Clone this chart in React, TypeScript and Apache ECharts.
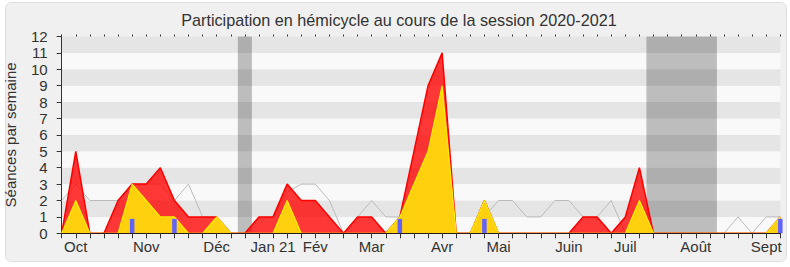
import React, { useEffect, useRef } from "react";
import * as echarts from "echarts";

// Month labels at each weekly tick (52 weeks of the 2020-2021 session)
const weekLabels = [
  "", "Oct", "", "", "", "", "Nov", "", "", "", "", "Déc", "", "", "", "Jan 21",
  "", "", "Fév", "", "", "", "Mar", "", "", "", "", "Avr", "", "", "", "Mai",
  "", "", "", "", "Juin", "", "", "", "Juil", "", "", "", "", "Août", "", "",
  "", "", "Sept", "",
];

// Séances (présences) per week
const presences = [
  0, 5, 0, 0, 2, 3, 3, 4, 2, 1, 1, 1, 0, 0, 1, 1,
  3, 2, 2, 1, 0, 1, 1, 0, 1, 5, 9, 11, 0, 0, 2, 0,
  0, 0, 0, 0, 0, 1, 1, 0, 1, 4, 0, 0, 0, 0, 0, 0,
  0, 0, 0, 1,
];

// Interventions per week
const interventions = [
  0, 2, 0, 0, 0, 3, 2, 1, 1, 0, 0, 1, 0, 0, 0, 0,
  2, 0, 0, 0, 0, 0, 0, 0, 1, 3, 5, 9, 0, 0, 2, 0,
  0, 0, 0, 0, 0, 0, 0, 0, 0, 2, 0, 0, 0, 0, 0, 0,
  0, 0, 0, 1,
];

// Median of all deputies
const mediane = [
  2, 3, 2, 2, 2, 3, 3, 3, 2, 3, 1, 1, 0, 0, 1, 1,
  2.5, 3, 3, 2, 0, 1, 2, 1, 1, 2, 4, 2, 0, 0, 1, 2,
  2, 1, 1, 2, 2, 1, 1, 2, 0, 0, 0, 0, 0, 0, 0, 0,
  1, 0, 1, 1,
];

// Questions orales
const questions = [
  0, 0, 0, 0, 0, 0.88, 0, 0, 0.88, 0, 0, 0, 0, 0, 0, 0,
  0, 0, 0, 0, 0, 0, 0, 0, 0.88, 0, 0, 0, 0, 0, 0.88, 0,
  0, 0, 0, 0, 0, 0, 0, 0, 0, 0, 0, 0, 0, 0, 0, 0,
  0, 0, 0, 0.88,
];

// Parliamentary holidays (week index ranges)
const vacances: [number, number][] = [
  [12.5, 13.5],
  [41.5, 46.5],
];

const yTicksMax = 12;
const FONT = "'Liberation Sans', Arial, sans-serif";

export default function App() {
  const ref = useRef<HTMLDivElement>(null);
  useEffect(() => {
    if (!ref.current) return;
    const chart = echarts.init(ref.current, undefined, { renderer: "svg" });
    chart.setOption({
      animation: false,
      backgroundColor: "#ffffff",
      textStyle: { fontFamily: FONT },
      graphic: [
        {
          type: "rect",
          z: -10,
          silent: true,
          shape: { x: 5.5, y: 2.5, width: 781, height: 259, r: 6 },
          style: { fill: "#f0f0f0", stroke: "#dedede", lineWidth: 1 },
        },
        {
          type: "text",
          x: 399,
          y: 20,
          style: {
            text: "Participation en hémicycle au cours de la session 2020-2021",
            fontFamily: FONT,
            fontSize: 16.2,
            fill: "#333",
            align: "center",
            verticalAlign: "middle",
          },
        },
      ],
      grid: {
        left: 61.7,
        right: 9.7,
        top: 36.5,
        bottom: 33.7,
        containLabel: false,
        outerBoundsMode: "none",
      },
      xAxis: [
        {
          type: "category",
          data: weekLabels,
          boundaryGap: false,
          position: "bottom",
          z: 10,
          axisLine: { show: true, lineStyle: { color: "#2b1a1a", width: 1 } },
          axisTick: { show: true, interval: 0, length: 5, lineStyle: { color: "#333" } },
          axisLabel: { interval: 0, fontSize: 15, color: "#333", margin: 6, fontFamily: FONT },
          splitLine: { show: false },
        },
        {
          type: "category",
          data: weekLabels,
          boundaryGap: false,
          position: "top",
          axisLine: { show: false },
          axisTick: { show: true, interval: 0, length: 2, lineStyle: { color: "#333" } },
          axisLabel: { show: false },
          splitLine: { show: false },
        },
        {
          type: "value",
          min: 0,
          max: weekLabels.length - 1,
          show: false,
          splitLine: { show: false },
        },
      ],
      yAxis: {
        type: "value",
        min: 0,
        max: yTicksMax,
        interval: 1,
        name: "Séances par semaine",
        nameLocation: "middle",
        nameGap: 44,
        nameTextStyle: { fontSize: 15, color: "#333", fontFamily: FONT },
        axisLine: { show: true, lineStyle: { color: "#333" } },
        axisTick: { show: true, length: 5, lineStyle: { color: "#333" } },
        axisLabel: { fontSize: 15, color: "#333", margin: 14, fontFamily: FONT },
        splitLine: { show: false },
        splitArea: { show: true, areaStyle: { color: ["#f9f9f9", "#e5e5e5"] } },
      },
      series: [
        {
          type: "line",
          xAxisIndex: 2,
          data: [],
          z: 1,
          silent: true,
          markArea: {
            silent: true,
            itemStyle: { color: "rgba(0,0,0,0.24)" },
            data: vacances.map(([a, b]) => [{ xAxis: a }, { xAxis: b }]),
          },
        },
        {
          name: "Médiane",
          type: "line",
          data: mediane,
          showSymbol: false,
          z: 2,
          lineStyle: { color: "#bbbbbb", width: 1 },
        },
        {
          name: "Présences",
          type: "line",
          data: presences,
          showSymbol: false,
          z: 3,
          lineStyle: { color: "#ff0000", width: 1.5 },
          areaStyle: { color: "rgba(255,0,0,0.78)", opacity: 1 },
        },
        {
          name: "Interventions",
          type: "line",
          data: interventions,
          showSymbol: false,
          z: 4,
          lineStyle: { color: "#ffee00", width: 1.2 },
          areaStyle: { color: "#ffd60c", opacity: 0.96 },
        },
        {
          name: "Questions",
          type: "bar",
          data: questions,
          barWidth: 4.5,
          z: 5,
          itemStyle: { color: "#6262ff" },
        },
      ],
    });
    return () => chart.dispose();
  }, []);
  return (
    <div
      ref={ref}
      style={{ position: "absolute", left: 0, top: 0, width: 790, height: 267 }}
    />
  );
}
